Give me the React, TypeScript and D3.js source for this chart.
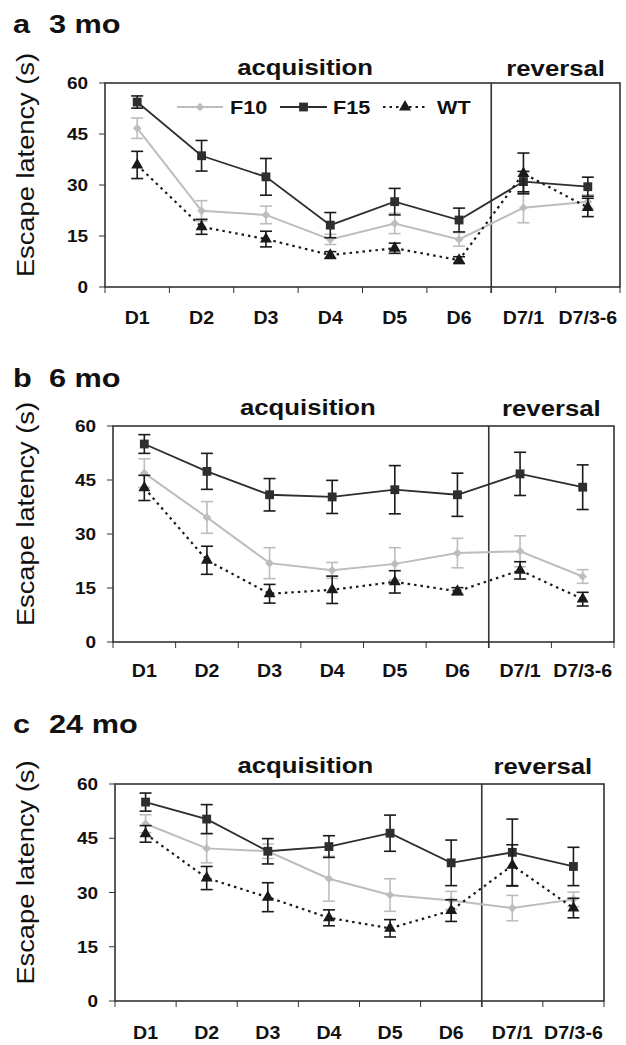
import * as d3 from 'd3';

const days = ['D1', 'D2', 'D3', 'D4', 'D5', 'D6', 'D7/1', 'D7/3-6'];
const yTicks = [0, 15, 30, 45, 60];

// a: 3 mo
const f10Mo3 = [46.7, 22.4, 21.2, 14, 18.7, 14, 23.3, 25.1];
const f10Mo3Err = [3, 3, 2.6, 1.5, 3, 2, 4.4, 2];
const f15Mo3 = [54.4, 38.6, 32.4, 18.2, 25.1, 19.7, 31, 29.5];
const f15Mo3Err = [1.8, 4.5, 5.4, 3.7, 3.9, 3.5, 3, 2.8];
const wtMo3 = [35.9, 17.7, 14.1, 9.4, 11.4, 7.9, 33.4, 23.4];
const wtMo3Err = [4, 2.2, 2.3, 1, 1.5, 1, 6, 2.7];

// b: 6 mo
const f10Mo6 = [46.9, 34.6, 21.9, 19.9, 21.7, 24.7, 25.2, 18.2];
const f10Mo6Err = [4, 4.4, 4.3, 2.2, 4.5, 4.1, 4.3, 1.9];
const f15Mo6 = [55, 47.4, 40.9, 40.3, 42.3, 40.9, 46.7, 43];
const f15Mo6Err = [2.6, 5, 4.5, 4.6, 6.7, 6, 6, 6.2];
const wtMo6 = [42.8, 22.7, 13.4, 14.5, 16.7, 14.1, 19.9, 11.9];
const wtMo6Err = [3.5, 3.9, 2.6, 3.8, 3.1, 1, 2.4, 1.9];

// c: 24 mo
const f10Mo24 = [49, 42.2, 41.4, 33.8, 29.3, 27.8, 25.7, 28.1];
const f10Mo24Err = [2.5, 4, 2, 6.2, 4.5, 2.5, 3.5, 2];
const f15Mo24 = [55, 50.3, 41.4, 42.7, 46.4, 38.2, 41.1, 37.2];
const f15Mo24Err = [2.5, 4, 3.5, 3, 5, 6.3, 9.2, 5.3];
const wtMo24 = [46.2, 34, 28.7, 23, 20.1, 25, 37.5, 25.7];
const wtMo24Err = [2.3, 3.2, 4, 2.2, 2.4, 3, 5.7, 2.7];

const FONT = '"Liberation Sans", Arial, Helvetica, sans-serif';
const SX = 1.17;

const STYLE: Record<string, any> = {
  F10: { color: '#bdbdbd', dash: null, width: 2, symbol: (d3 as any).symbolDiamond2 || d3.symbolDiamond, size: 48 },
  F15: { color: '#2e2e2e', dash: null, width: 1.8, symbol: d3.symbolSquare, size: 78 },
  WT: { color: '#1a1a1a', dash: '2.5,4', width: 2.2, symbol: d3.symbolTriangle, size: 62 },
};

const panels = [
  {
    letter: 'a', age: '3 mo', left: 105, right: 620, top: 83, bottom: 287,
    titleY: 33, headY: 75, xLabelY: 324, legend: true,
    series: [
      { name: 'F10', values: f10Mo3, err: f10Mo3Err },
      { name: 'F15', values: f15Mo3, err: f15Mo3Err },
      { name: 'WT', values: wtMo3, err: wtMo3Err },
    ],
  },
  {
    letter: 'b', age: '6 mo', left: 113, right: 614, top: 426, bottom: 642,
    titleY: 387, headY: 415, xLabelY: 677, legend: false,
    series: [
      { name: 'F10', values: f10Mo6, err: f10Mo6Err },
      { name: 'F15', values: f15Mo6, err: f15Mo6Err },
      { name: 'WT', values: wtMo6, err: wtMo6Err },
    ],
  },
  {
    letter: 'c', age: '24 mo', left: 115, right: 604, top: 784, bottom: 1001,
    titleY: 733, headY: 773, xLabelY: 1039, legend: false,
    series: [
      { name: 'F10', values: f10Mo24, err: f10Mo24Err },
      { name: 'F15', values: f15Mo24, err: f15Mo24Err },
      { name: 'WT', values: wtMo24, err: wtMo24Err },
    ],
  },
];

function SText({ x, y, size, anchor = 'start', weight = 'bold', sx = SX, children }: any) {
  return (
    <text
      transform={`translate(${x},${y}) scale(${sx},1)`}
      fontSize={size}
      fontWeight={weight}
      textAnchor={anchor}
      fontFamily={FONT}
      fill="#111"
    >
      {children}
    </text>
  );
}

function Marker({ name, x, y }: any) {
  const s = STYLE[name];
  const path = d3.symbol().type(s.symbol).size(s.size)() || '';
  return <path d={path} transform={`translate(${x},${y})`} fill={s.color} />;
}

function Legend() {
  const y = 107;
  const items = [
    { name: 'F10', x0: 177, x1: 223, label: 230 },
    { name: 'F15', x0: 280, x1: 327, label: 333 },
    { name: 'WT', x0: 383, x1: 427, label: 437 },
  ];
  return (
    <g>
      {items.map((it) => {
        const s = STYLE[it.name];
        return (
          <g key={it.name}>
            <line x1={it.x0} x2={it.x1} y1={y} y2={y} stroke={s.color} strokeWidth={s.width} strokeDasharray={s.dash || undefined} />
            <Marker name={it.name} x={(it.x0 + it.x1) / 2} y={y} />
            <SText x={it.label} y={y + 6.8} size={18.5}>{it.name}</SText>
          </g>
        );
      })}
    </g>
  );
}

function Panel({ p }: any) {
  const x = d3.scaleBand<string>().domain(days).range([p.left, p.right]).padding(0);
  const y = d3.scaleLinear().domain([0, 60]).range([p.bottom, p.top]);
  const cx = (d: string) => (x(d) as number) + x.bandwidth() / 2;
  const sep = x('D7/1') as number;
  const line = d3.line<number>().x((_, i) => cx(days[i])).y((v) => y(v));
  const boundaries = days.map((d) => x(d) as number).concat([p.right]);
  const frame = '#333';
  const acqX = (p.left + sep) / 2 + 7;
  const revX = (sep + p.right) / 2;

  return (
    <g>
      <SText x={13} y={p.titleY} size={26} sx={1.18}>{p.letter}</SText>
      <SText x={49} y={p.titleY} size={26} sx={1.18}>{p.age}</SText>
      <SText x={acqX} y={p.headY} size={22} anchor="middle">acquisition</SText>
      <SText x={revX} y={p.headY + 1} size={22} anchor="middle">reversal</SText>

      <text
        transform={`translate(34,${(p.top + p.bottom) / 2 - 20}) rotate(-90) scale(1.16,1)`}
        fontSize={23.5}
        textAnchor="middle"
        fontFamily={FONT}
        fill="#111"
      >
        Escape latency (s)
      </text>

      {yTicks.map((t) => (
        <g key={t}>
          <line x1={p.left - 6} x2={p.left} y1={y(t)} y2={y(t)} stroke={frame} strokeWidth={1} />
          <SText x={p.left - 17} y={y(t) + 6} size={16.5} anchor="end" sx={1.15}>{t}</SText>
        </g>
      ))}

      {boundaries.map((b, i) => (
        <line key={i} x1={b} x2={b} y1={p.bottom} y2={p.bottom + 6} stroke={frame} strokeWidth={1} />
      ))}

      <rect x={p.left} y={p.top} width={p.right - p.left} height={p.bottom - p.top} fill="none" stroke={frame} strokeWidth={1.6} />
      <line x1={sep} x2={sep} y1={p.top} y2={p.bottom + 6} stroke={frame} strokeWidth={1.6} />

      {days.map((d) => (
        <SText key={d} x={cx(d)} y={p.xLabelY} size={17.5} anchor="middle" sx={1.12}>{d}</SText>
      ))}

      {p.series.map((s: any) => {
        const st = STYLE[s.name];
        return (
          <g key={s.name}>
            <path d={line(s.values) || ''} fill="none" stroke={st.color} strokeWidth={st.width} strokeDasharray={st.dash || undefined} />
            {s.values.map((v: number, i: number) => {
              const px = cx(days[i]);
              const hi = y(v + s.err[i]);
              const lo = y(v - s.err[i]);
              const barColor = s.name === 'F10' ? st.color : '#1a1a1a';
              return (
                <g key={i}>
                  <line x1={px} x2={px} y1={hi} y2={lo} stroke={barColor} strokeWidth={1.6} />
                  <line x1={px - 6} x2={px + 6} y1={hi} y2={hi} stroke={barColor} strokeWidth={1.6} />
                  <line x1={px - 6} x2={px + 6} y1={lo} y2={lo} stroke={barColor} strokeWidth={1.6} />
                  <Marker name={s.name} x={px} y={y(v)} />
                </g>
              );
            })}
          </g>
        );
      })}

      {p.legend ? <Legend /> : null}
    </g>
  );
}

export default function App() {
  return (
    <svg
      width={626}
      height={1045}
      style={{ position: 'absolute', left: 0, top: 0, background: '#fff' }}
    >
      {panels.map((p) => (
        <Panel key={p.letter} p={p} />
      ))}
    </svg>
  );
}
